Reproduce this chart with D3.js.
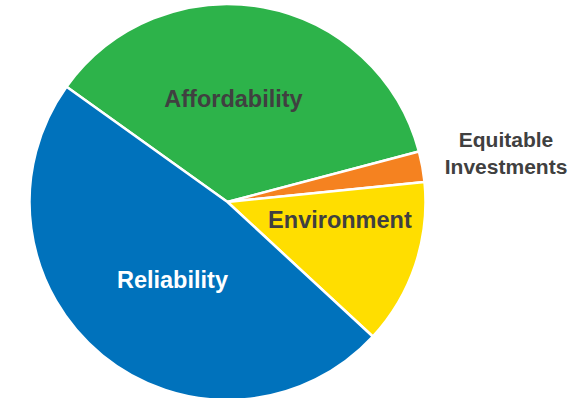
<!DOCTYPE html>
<html>
<head>
<meta charset="utf-8">
<script src="https://cdn.jsdelivr.net/npm/d3@7"></script>
<style>
  html, body { margin: 0; padding: 0; background: #ffffff; }
  svg { display: block; }
</style>
</head>
<body>
<svg id="chart" width="574" height="398"></svg>
<script>
const categories = ["Affordability", "Equitable Investments", "Environment", "Reliability"];
const values = [36.0, 2.5, 13.5, 48.0];
const colors = ["#2db34a", "#f58220", "#ffde00", "#0072bc"];
const labelColors = ["#404040", "#404040", "#404040", "#ffffff"];

const width = 574, height = 398;
const cx = 227.5, cy = 202, radius = 198;
const startDeg = -54.4;

const svg = d3.select("#chart");
const g = svg.append("g").attr("transform", `translate(${cx},${cy})`);

const data = categories.map((c, i) => ({ name: c, value: values[i], color: colors[i], labelColor: labelColors[i] }));

const pie = d3.pie()
  .sort(null)
  .value(d => d.value)
  .startAngle(startDeg * Math.PI / 180)
  .endAngle(startDeg * Math.PI / 180 + 2 * Math.PI);

const arc = d3.arc().innerRadius(0).outerRadius(radius);
const arcs = pie(data);

g.selectAll("path.slice")
  .data(arcs)
  .join("path")
  .attr("class", "slice")
  .attr("d", arc)
  .attr("fill", d => d.data.color)
  .attr("stroke", "#ffffff")
  .attr("stroke-width", 2.5)
  .attr("stroke-linejoin", "round");

// label placement: radius factor and angle offset (deg) relative to slice mid-angle
const labelRadius = [0.524, 1.428, 0.575, 0.48];
const labelAngleOffset = [-7.1, 0.4, -9.4, -3.8];
const labelSize = [23.5, 21, 23.5, 23.5];

const labels = g.selectAll("g.label")
  .data(arcs)
  .join("g")
  .attr("class", "label")
  .attr("transform", (d, i) => {
    const a = (d.startAngle + d.endAngle) / 2 + labelAngleOffset[i] * Math.PI / 180;
    const r = radius * labelRadius[i];
    return `translate(${Math.sin(a) * r},${-Math.cos(a) * r})`;
  });

labels.each(function(d, i) {
  const lines = d.data.name === "Equitable Investments" ? ["Equitable", "Investments"] : [d.data.name];
  const t = d3.select(this).append("text")
    .attr("text-anchor", "middle")
    .attr("font-family", "Liberation Sans, Arial, sans-serif")
    .attr("font-weight", "bold")
    .attr("font-size", labelSize[i])
    .attr("fill", d.data.labelColor);
  const lh = 27;
  lines.forEach((ln, j) => {
    t.append("tspan")
      .attr("x", 0)
      .attr("y", (j - (lines.length - 1) / 2) * lh)
      .attr("dy", "0.36em")
      .text(ln);
  });
});
</script>
</body>
</html>
